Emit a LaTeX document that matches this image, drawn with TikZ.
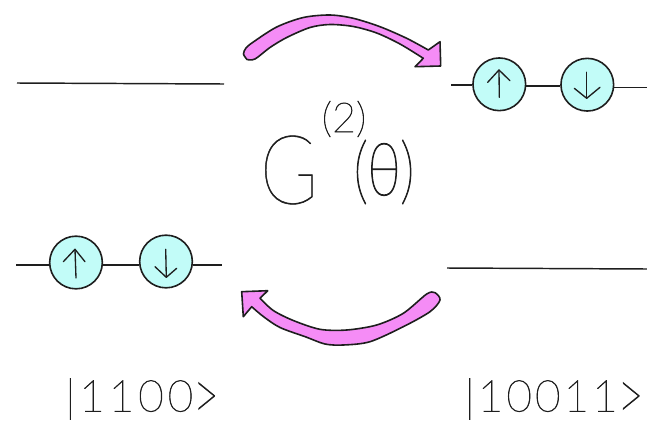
\documentclass[tikz,border=0pt]{standalone}
\usepackage{fontspec}
\setmainfont{Lato}[UprightFont=* Light]
\newfontfamily\thinbig{Lato Hairline}[FakeBold=0.6]
\newfontfamily\thinsmall{Lato Hairline}[FakeBold=1.4]
\definecolor{spincyan}{HTML}{C2FCF8}
\definecolor{swaypink}{HTML}{F58CF6}
\definecolor{inkc}{HTML}{1E1E1E}
\tikzset{
  level/.style={draw=inkc,line width=1.1pt},
  spin/.style={circle,draw=inkc,fill=spincyan,line width=1.2pt,minimum size=39.5pt,inner sep=0pt},
  pen/.style={draw=inkc,line width=1pt,line cap=round,line join=round},
  swoop/.style={draw=inkc,fill=swaypink,line width=1.2pt,line join=round},
  hand/.style={inner sep=0pt,text=inkc},
}
\begin{document}
\begin{tikzpicture}[x=0.75pt,y=-0.75pt]
\useasboundingbox (0,0) rectangle (647,422);
% left level with electrons
\coordinate (la) at (16,265);
\coordinate (lb) at (222,265);
\node[spin] (lu) at (76,262.5) {};
\node[spin] (ld) at (166,261.5) {};
\draw[level] (la) -- (la -| lu.west);
\draw[level] (la -| lu.east) -- (la -| ld.west);
\draw[level] (la -| ld.east) -- (lb);
\draw[pen] (76,278) -- (75,249.3);
\draw[pen] (63.3,261.7) -- (75,249.3) -- (85,261.7);
\draw[pen] (165.7,249.3) -- (166.3,277.3);
\draw[pen] (155,266.7) -- (166.3,277.3) -- (176.7,268.3);
% right level with electrons
\coordinate (ra) at (451.3,85);
\coordinate (rm) at (540,86);
\coordinate (rb) at (647,87.7);
\node[spin] (ru) at (499.3,84.3) {};
\node[spin] (rd) at (587.3,84.7) {};
\draw[level] (ra) -- (ra -| ru.west);
\draw[level] (rm -| ru.east) -- (rm -| rd.west);
\draw[level] (rb -| rd.east) -- (rb);
\draw[pen] (499.3,97.3) -- (499,70);
\draw[pen] (487.7,82.3) -- (499,70) -- (510,80.7);
\draw[pen] (586.7,72.3) -- (586.7,98.3);
\draw[pen] (574.3,88.3) -- (586.7,98.3) -- (600,87.3);
% empty levels
\coordinate (ea) at (17,83);
\coordinate (eb) at (224,84);
\draw[level] (ea) -- (eb);
\coordinate (fa) at (447,268);
\coordinate (fb) at (647,269);
\draw[level] (fa) -- (fb);
% swoops
\draw[swoop] plot[smooth,tension=0.5] coordinates {(247,59.5) (243.5,54) (246,48) (253.3,42) (276.7,27) (303.3,17.5) (330,15) (353.3,18.3) (380,26.7) (406.7,38.3) (428.3,50)}
  -- (440,41.7) -- (440.7,66) -- (415,66.7) -- (423.3,58.3)
  -- plot[smooth,tension=0.5] coordinates {(423.3,58.3) (400,44) (376.7,33) (353.3,26.5) (330,24.5) (310,27.5) (286.7,37.5) (270,47.5) (255,59) (247,59.5)} -- cycle;
\draw[swoop] (241.7,291.7) -- (267.7,290.7) -- (260,298.3)
  -- plot[smooth,tension=0.5] coordinates {(260,298.3) (273.3,310.5) (293.3,320.5) (320,329.3) (346.7,330) (376.7,325) (403.3,313.3) (426.7,294) (435,292.7) (440,300) (430,311.7) (403.3,326.7) (370,341.7) (343.3,345) (325,344) (306,337) (280,327.5) (263.3,316.5) (251.7,306.7)}
  -- (243.3,316.7) -- cycle;
% labels
\node[hand,font=\thinbig\fontsize{72}{72}\selectfont] (g) at (289,170) {\scalebox{0.82}[1]{G}};
\node[hand,font=\thinsmall\fontsize{31}{31}\selectfont] (two) at (344,119) {(2)};
\node[hand,font=\thinsmall\fontsize{44}{44}\selectfont] (th) at (384,172) {\scalebox{1}[1.25]{(θ)}};
\node[hand,font=\thinsmall\fontsize{33}{33}\selectfont] (ket1) at (142,399) {\addfontfeature{LetterSpace=9}|1100\raisebox{-6pt}{\scalebox{1}[1.6]{>}}};
\node[hand,font=\thinsmall\fontsize{33}{33}\selectfont] (ket2) at (554,399) {\addfontfeature{LetterSpace=7}|10011\raisebox{-6pt}{\scalebox{1}[1.6]{>}}};
\end{tikzpicture}
\end{document}
